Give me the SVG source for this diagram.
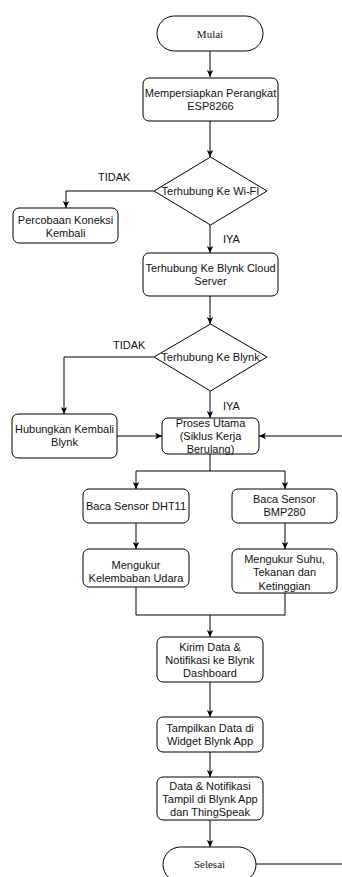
<svg xmlns="http://www.w3.org/2000/svg" width="342" height="877" viewBox="0 0 342 877">
<defs>
<marker id="ah" markerWidth="8" markerHeight="8" refX="7" refY="4" orient="auto" markerUnits="userSpaceOnUse">
<path d="M0,0.8 L7,4 L0,7.2 L1.8,4 Z" fill="#000"/>
</marker>
</defs>
<style>
.b{fill:#fff;stroke:#000;stroke-width:1}
.t{font-family:"Liberation Sans",Arial,sans-serif;font-size:11px;fill:#111;text-anchor:middle}
.s{font-family:"Liberation Serif","Times New Roman",serif;font-size:11px;fill:#111;text-anchor:middle}
.l{font-family:"Liberation Sans",Arial,sans-serif;font-size:11px;fill:#111}
.c{fill:none;stroke:#000;stroke-width:1}
.a{fill:none;stroke:#000;stroke-width:1;marker-end:url(#ah)}
</style>
<rect width="342" height="877" fill="#fff"/>
<g id="connectors">
<path class="a" d="M210,51 V77"/>
<path class="a" d="M210,121 V157"/>
<path class="a" d="M154,191 H66 V208"/>
<path class="a" d="M210,225 V253"/>
<path class="a" d="M210,296 V324"/>
<path class="a" d="M154,357 H64 V414"/>
<path class="a" d="M210,391 V418"/>
<path class="a" d="M117,436 H162"/>
<path class="a" d="M342,436 H259"/>
<path class="c" d="M210,454 V471 M136,471 H285"/>
<path class="a" d="M136,471 V489"/>
<path class="a" d="M285,471 V489"/>
<path class="a" d="M136,523 V549"/>
<path class="a" d="M285,523 V549"/>
<path class="c" d="M136,587 V615 H285 V593"/>
<path class="a" d="M210,615 V637"/>
<path class="a" d="M210,682 V717"/>
<path class="a" d="M210,752 V777"/>
<path class="a" d="M210,820 V847"/>
<path class="c" d="M256,864 H342"/>
<text class="l" x="98" y="181">TIDAK</text>
<text class="l" x="223" y="243">IYA</text>
<text class="l" x="113" y="349">TIDAK</text>
<text class="l" x="223" y="410">IYA</text>
</g>
<g id="mulai">
<rect class="b" x="157" y="16" width="106" height="35" rx="17.5"/>
<text class="s" x="210" y="37.5">Mulai</text>
</g>
<g id="persiapan">
<rect class="b" x="143" y="78" width="135" height="43" rx="6"/>
<text class="t" x="210.5" y="97">Mempersiapkan Perangkat</text>
<text class="t" x="210.5" y="110">ESP8266</text>
</g>
<g id="wifi">
<polygon class="b" points="210.5,157 267,191 210.5,225 154,191"/>
<text class="t" x="210.5" y="195">Terhubung Ke Wi-FI</text>
</g>
<g id="percobaan">
<rect class="b" x="13" y="208" width="105" height="35" rx="6"/>
<text class="t" x="65.5" y="224">Percobaan Koneksi</text>
<text class="t" x="65.5" y="237">Kembali</text>
</g>
<g id="cloud">
<rect class="b" x="143" y="253" width="135" height="43" rx="6"/>
<text class="t" x="210.5" y="272">Terhubung Ke Blynk Cloud</text>
<text class="t" x="210.5" y="285">Server</text>
</g>
<g id="blynk">
<polygon class="b" points="210.5,324 267,357 210.5,391 154,357"/>
<text class="t" x="210.5" y="361">Terhubung Ke Blynk</text>
</g>
<g id="hubungkan">
<rect class="b" x="12" y="414" width="105" height="44" rx="6"/>
<text class="t" x="64.5" y="433">Hubungkan Kembali</text>
<text class="t" x="64.5" y="446">Blynk</text>
</g>
<g id="proses">
<rect class="b" x="162" y="418" width="97" height="36" rx="6"/>
<text class="t" x="210.5" y="427">Proses Utama</text>
<text class="t" x="210.5" y="440">(Siklus Kerja</text>
<text class="t" x="210.5" y="453">Berulang)</text>
</g>
<g id="dht">
<rect class="b" x="83" y="489" width="106" height="34" rx="6"/>
<text class="t" x="136" y="510">Baca Sensor DHT11</text>
</g>
<g id="bmp">
<rect class="b" x="232" y="489" width="105" height="34" rx="6"/>
<text class="t" x="284.5" y="503">Baca Sensor</text>
<text class="t" x="284.5" y="516">BMP280</text>
</g>
<g id="kelembaban">
<rect class="b" x="83" y="549" width="106" height="38" rx="6"/>
<text class="t" x="136" y="569">Mengukur</text>
<text class="t" x="136" y="582">Kelembaban Udara</text>
</g>
<g id="suhu">
<rect class="b" x="232" y="549" width="105" height="44" rx="6"/>
<text class="t" x="284.5" y="563">Mengukur Suhu,</text>
<text class="t" x="284.5" y="576">Tekanan dan</text>
<text class="t" x="284.5" y="590">Ketinggian</text>
</g>
<g id="kirim">
<rect class="b" x="157" y="637" width="106" height="45" rx="6"/>
<text class="t" x="210" y="651">Kirim Data &amp;</text>
<text class="t" x="210" y="664">Notifikasi ke Blynk</text>
<text class="t" x="210" y="677">Dashboard</text>
</g>
<g id="tampilkan">
<rect class="b" x="157" y="717" width="106" height="35" rx="6"/>
<text class="t" x="210" y="732">Tampilkan Data di</text>
<text class="t" x="210" y="745">Widget Blynk App</text>
</g>
<g id="tampil">
<rect class="b" x="157" y="777" width="106" height="43" rx="6"/>
<text class="t" x="210" y="790">Data &amp; Notifikasi</text>
<text class="t" x="210" y="803">Tampil di Blynk App</text>
<text class="t" x="210" y="816">dan ThingSpeak</text>
</g>
<g id="selesai">
<rect class="b" x="163" y="847" width="93" height="35" rx="17.5"/>
<text class="s" x="209.5" y="868">Selesai</text>
</g>
</svg>
